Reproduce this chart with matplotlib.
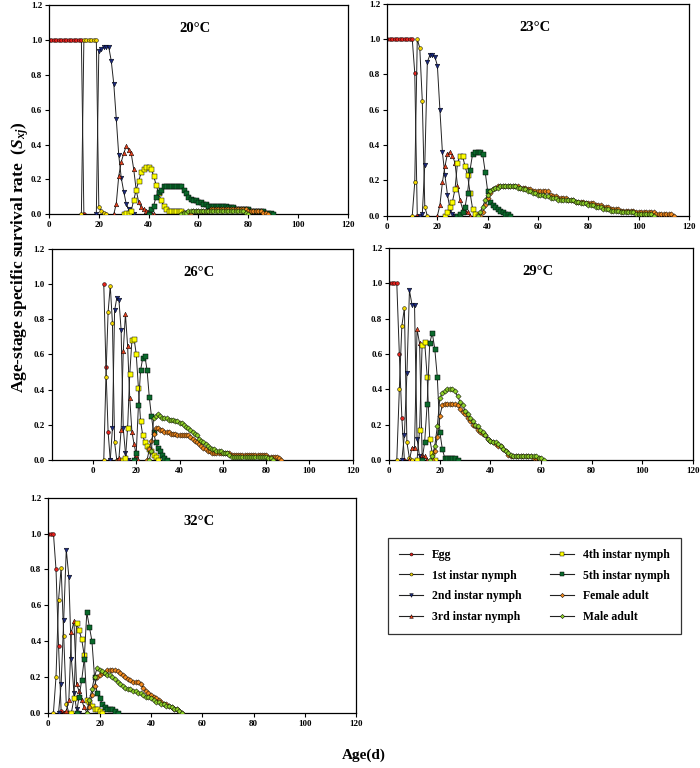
import matplotlib
matplotlib.use("Agg")
import matplotlib.pyplot as plt
from matplotlib.lines import Line2D

plt.rcParams["font.family"] = ["Liberation Serif", "DejaVu Serif"]
plt.rcParams["font.weight"] = "bold"
plt.rcParams["mathtext.fontset"] = "custom"
plt.rcParams["mathtext.rm"] = "Liberation Serif:bold"
plt.rcParams["mathtext.it"] = "Liberation Serif:italic:bold"

stages = ["Egg", "1st instar nymph", "2nd instar nymph", "3rd instar nymph",
          "4th instar nymph", "5th instar nymph", "Female adult", "Male adult"]
temps = ["20°C", "23°C", "26°C", "29°C", "32°C"]

# ---- 20 C : first age (d) of each stage series, then daily S_xj values
start_20 = [0, 13, 19, 26, 30, 40, 56, 53]
egg_20 = [1.0, 1.0, 1.0, 1.0, 1.0, 1.0, 1.0, 1.0, 1.0, 1.0, 1.0, 1.0, 1.0, 1.0, 0.0]
n1_20 = [0.0, 1.0, 1.0, 1.0, 1.0, 1.0, 1.0, 0.04, 0.02, 0.01, 0.0]
n2_20 = [0.0, 0.94, 0.95, 0.96, 0.96, 0.96, 0.88, 0.75, 0.55, 0.34, 0.21, 0.13, 0.06, 0.03, 0.01, 0.0]
n3_20 = [0.0, 0.06, 0.22, 0.30, 0.35, 0.39, 0.37, 0.35, 0.26, 0.14, 0.07, 0.04, 0.03, 0.02, 0.02, 0.01, 0.0]
n4_20 = [0.0, 0.01, 0.01, 0.02, 0.08, 0.14, 0.19, 0.24, 0.26, 0.27, 0.27, 0.26, 0.22, 0.17, 0.12, 0.08,
         0.05, 0.03, 0.02, 0.02, 0.02, 0.02, 0.02, 0.02, 0.01, 0.01, 0.0]
n5_20 = [0.0, 0.03, 0.05, 0.10, 0.13, 0.14, 0.16, 0.16, 0.16, 0.16, 0.16, 0.16, 0.16, 0.16, 0.14, 0.12,
         0.10, 0.09, 0.08, 0.08, 0.07, 0.07, 0.06, 0.06, 0.05, 0.05, 0.05, 0.05, 0.05, 0.05, 0.05, 0.05,
         0.04, 0.04, 0.04, 0.03, 0.03, 0.03, 0.03, 0.03, 0.03, 0.02, 0.02, 0.02, 0.02, 0.02, 0.02, 0.01,
         0.01, 0.01, 0.0]
fem_20 = [0.0, 0.01, 0.02, 0.02, 0.02, 0.02, 0.02, 0.02, 0.02, 0.03, 0.03, 0.03, 0.03, 0.03, 0.03, 0.03,
          0.03, 0.03, 0.03, 0.03, 0.03, 0.03, 0.03, 0.03, 0.02, 0.02, 0.02, 0.02, 0.02, 0.02, 0.01, 0.01, 0.0]
male_20 = [0.0, 0.01, 0.01, 0.02, 0.02, 0.02, 0.02, 0.02, 0.02, 0.02, 0.02, 0.02, 0.02, 0.02, 0.02, 0.02,
           0.02, 0.02, 0.02, 0.02, 0.02, 0.02, 0.02, 0.02, 0.02, 0.02, 0.01, 0.0]

# ---- 23 C
start_23 = [0, 10, 13, 20, 23, 28, 37, 36]
egg_23 = [1.0, 1.0, 1.0, 1.0, 1.0, 1.0, 1.0, 1.0, 1.0, 1.0, 1.0, 0.81, 0.0]
n1_23 = [0.0, 0.19, 1.0, 0.95, 0.65, 0.05, 0.0]
n2_23 = [0.0, 0.01, 0.29, 0.87, 0.91, 0.91, 0.90, 0.85, 0.60, 0.36, 0.23, 0.12, 0.04, 0.01, 0.0]
n3_23 = [0.0, 0.06, 0.19, 0.28, 0.35, 0.36, 0.34, 0.30, 0.17, 0.09, 0.04, 0.03, 0.02, 0.0]
n4_23 = [0.0, 0.02, 0.05, 0.08, 0.15, 0.30, 0.34, 0.34, 0.28, 0.23, 0.13, 0.04, 0.01, 0.0]
n5_23 = [0.0, 0.01, 0.02, 0.05, 0.13, 0.26, 0.35, 0.36, 0.36, 0.36, 0.35, 0.25, 0.14, 0.08, 0.06, 0.05,
         0.04, 0.03, 0.02, 0.01, 0.01, 0.0]
fem_23 = [0.0, 0.02, 0.06, 0.10, 0.13, 0.15, 0.16, 0.17, 0.17, 0.17, 0.17, 0.17, 0.17, 0.17, 0.17, 0.17,
          0.16, 0.16, 0.16, 0.15, 0.15, 0.14, 0.14, 0.14, 0.14, 0.14, 0.14, 0.14, 0.12, 0.11, 0.11, 0.10,
          0.10, 0.10, 0.10, 0.09, 0.09, 0.09, 0.08, 0.08, 0.08, 0.08, 0.07, 0.07, 0.07, 0.07, 0.06, 0.06,
          0.06, 0.05, 0.05, 0.05, 0.04, 0.04, 0.04, 0.04, 0.03, 0.03, 0.03, 0.03, 0.03, 0.03, 0.02, 0.02,
          0.02, 0.02, 0.02, 0.02, 0.02, 0.02, 0.01, 0.01, 0.01, 0.01, 0.01, 0.01, 0.01, 0.0]
male_23 = [0.0, 0.02, 0.05, 0.09, 0.12, 0.14, 0.15, 0.16, 0.16, 0.17, 0.17, 0.17, 0.17, 0.17, 0.17, 0.17,
           0.16, 0.16, 0.15, 0.15, 0.14, 0.14, 0.13, 0.13, 0.12, 0.12, 0.12, 0.11, 0.11, 0.10, 0.10, 0.10,
           0.09, 0.09, 0.09, 0.09, 0.09, 0.09, 0.09, 0.08, 0.08, 0.07, 0.07, 0.07, 0.06, 0.06, 0.06, 0.05,
           0.05, 0.05, 0.04, 0.04, 0.04, 0.03, 0.03, 0.03, 0.03, 0.02, 0.02, 0.02, 0.02, 0.02, 0.02, 0.01,
           0.01, 0.01, 0.01, 0.01, 0.01, 0.01, 0.0]

# ---- 26 C
start_26 = [5, 5, 8, 11, 14, 19, 25, 26]
egg_26 = [1.0, 0.53, 0.16, 0.0]
n1_26 = [0.0, 0.47, 0.84, 0.99, 0.78, 0.10, 0.0]
n2_26 = [0.0, 0.18, 0.85, 0.92, 0.91, 0.74, 0.18, 0.04, 0.0]
n3_26 = [0.0, 0.01, 0.17, 0.62, 0.83, 0.65, 0.35, 0.16, 0.09, 0.03, 0.0]
n4_26 = [0.0, 0.01, 0.18, 0.49, 0.68, 0.69, 0.60, 0.41, 0.22, 0.14, 0.10, 0.08, 0.06, 0.05, 0.03, 0.02, 0.0]
n5_26 = [0.0, 0.04, 0.31, 0.51, 0.58, 0.59, 0.51, 0.36, 0.25, 0.16, 0.10, 0.07, 0.05, 0.03, 0.01, 0.0]
fem_26 = [0.0, 0.06, 0.11, 0.15, 0.18, 0.18, 0.17, 0.17, 0.16, 0.16, 0.16, 0.15, 0.15, 0.15, 0.14, 0.14,
          0.14, 0.14, 0.14, 0.14, 0.13, 0.12, 0.11, 0.10, 0.09, 0.08, 0.07, 0.06, 0.05, 0.05, 0.04, 0.04,
          0.04, 0.04, 0.04, 0.04, 0.04, 0.04, 0.04, 0.03, 0.03, 0.03, 0.03, 0.03, 0.03, 0.03, 0.03, 0.03,
          0.03, 0.03, 0.03, 0.03, 0.03, 0.03, 0.03, 0.03, 0.02, 0.02, 0.02, 0.02, 0.02, 0.01, 0.0]
male_26 = [0.0, 0.05, 0.24, 0.25, 0.26, 0.25, 0.24, 0.24, 0.24, 0.23, 0.23, 0.23, 0.22, 0.22, 0.21, 0.21,
           0.20, 0.19, 0.18, 0.17, 0.16, 0.15, 0.14, 0.12, 0.11, 0.10, 0.09, 0.08, 0.07, 0.06, 0.06, 0.05,
           0.05, 0.05, 0.04, 0.04, 0.04, 0.03, 0.02, 0.02, 0.02, 0.02, 0.02, 0.02, 0.02, 0.02, 0.02, 0.02,
           0.02, 0.02, 0.02, 0.02, 0.02, 0.02, 0.02, 0.01, 0.01, 0.0]

# ---- 29 C
start_29 = [0, 3, 5, 8, 11, 13, 17, 16]
egg_29 = [1.0, 1.0, 1.0, 1.0, 0.60, 0.24, 0.0]
n1_29 = [0.0, 0.40, 0.76, 0.86, 0.10, 0.01, 0.0]
n2_29 = [0.0, 0.14, 0.49, 0.96, 0.88, 0.88, 0.12, 0.02, 0.0]
n3_29 = [0.0, 0.07, 0.07, 0.74, 0.66, 0.03, 0.02, 0.0]
n4_29 = [0.0, 0.17, 0.65, 0.67, 0.47, 0.12, 0.04, 0.0]
n5_29 = [0.0, 0.10, 0.32, 0.66, 0.72, 0.63, 0.47, 0.16, 0.06, 0.01, 0.01, 0.01, 0.01, 0.01, 0.0]
fem_29 = [0.0, 0.05, 0.13, 0.25, 0.31, 0.32, 0.32, 0.32, 0.32, 0.32, 0.31, 0.29, 0.27, 0.26, 0.24, 0.22,
          0.20, 0.19, 0.17, 0.16, 0.15, 0.14, 0.12, 0.11, 0.10, 0.09, 0.08, 0.08, 0.06, 0.05, 0.03, 0.02,
          0.02, 0.02, 0.02, 0.02, 0.02, 0.02, 0.02, 0.02, 0.01, 0.01, 0.01, 0.0]
male_29 = [0.0, 0.02, 0.08, 0.19, 0.35, 0.38, 0.39, 0.40, 0.40, 0.40, 0.39, 0.36, 0.33, 0.31, 0.28, 0.26,
           0.24, 0.22, 0.20, 0.19, 0.17, 0.16, 0.14, 0.12, 0.11, 0.10, 0.10, 0.09, 0.08, 0.06, 0.05, 0.04,
           0.03, 0.02, 0.02, 0.02, 0.02, 0.02, 0.02, 0.02, 0.02, 0.02, 0.02, 0.01, 0.01, 0.0]

# ---- 32 C
start_32 = [0, 2, 4, 6, 9, 11, 15, 15]
egg_32 = [1.0, 1.0, 1.0, 0.80, 0.37, 0.01, 0.0]
n1_32 = [0.0, 0.20, 0.63, 0.81, 0.43, 0.05, 0.0]
n2_32 = [0.0, 0.16, 0.52, 0.91, 0.76, 0.30, 0.11, 0.02, 0.0]
n3_32 = [0.0, 0.01, 0.07, 0.45, 0.51, 0.16, 0.12, 0.07, 0.03, 0.0]
n4_32 = [0.0, 0.08, 0.50, 0.46, 0.41, 0.32, 0.07, 0.06, 0.04, 0.02, 0.02, 0.01, 0.0]
n5_32 = [0.0, 0.09, 0.18, 0.30, 0.56, 0.48, 0.40, 0.20, 0.11, 0.08, 0.05, 0.03, 0.02, 0.02, 0.02, 0.01, 0.0]
fem_32 = [0.0, 0.03, 0.10, 0.15, 0.20, 0.21, 0.22, 0.22, 0.24, 0.24, 0.24, 0.24, 0.23, 0.22, 0.21, 0.20,
          0.19, 0.18, 0.17, 0.17, 0.17, 0.16, 0.14, 0.12, 0.11, 0.10, 0.09, 0.08, 0.07, 0.06, 0.05, 0.05,
          0.04, 0.03, 0.02, 0.02, 0.01, 0.0]
male_32 = [0.0, 0.07, 0.13, 0.20, 0.25, 0.24, 0.23, 0.22, 0.21, 0.21, 0.20, 0.19, 0.17, 0.16, 0.15, 0.14,
           0.13, 0.13, 0.12, 0.12, 0.11, 0.11, 0.10, 0.09, 0.09, 0.08, 0.07, 0.06, 0.06, 0.05, 0.05, 0.04,
           0.04, 0.03, 0.02, 0.02, 0.01, 0.0]

panels = {
    "20°C": (start_20, [egg_20, n1_20, n2_20, n3_20, n4_20, n5_20, fem_20, male_20]),
    "23°C": (start_23, [egg_23, n1_23, n2_23, n3_23, n4_23, n5_23, fem_23, male_23]),
    "26°C": (start_26, [egg_26, n1_26, n2_26, n3_26, n4_26, n5_26, fem_26, male_26]),
    "29°C": (start_29, [egg_29, n1_29, n2_29, n3_29, n4_29, n5_29, fem_29, male_29]),
    "32°C": (start_32, [egg_32, n1_32, n2_32, n3_32, n4_32, n5_32, fem_32, male_32]),
}

markers = ["o", "o", "v", "^", "s", "s", "D", "D"]
colors = ["#e3211c", "#f2d600", "#1b2a80", "#e8401c", "#ffff00", "#0b6a2c", "#f28a1e", "#8fd12a"]
msizes = [2.7, 2.7, 3.3, 3.3, 3.6, 3.6, 2.7, 2.7]

# axes boxes in figure fractions [left, bottom, width, height]
boxes = {
    "20°C": [0.070, 0.721, 0.427, 0.272],
    "23°C": [0.553, 0.719, 0.431, 0.276],
    "26°C": [0.074, 0.401, 0.430, 0.275],
    "29°C": [0.556, 0.401, 0.434, 0.276],
    "32°C": [0.069, 0.072, 0.440, 0.280],
}
xlims = {"20°C": (0, 120), "23°C": (0, 120), "26°C": (-19, 120), "29°C": (0, 120), "32°C": (0, 120)}

fig = plt.figure(figsize=(7.0, 7.68), dpi=100)

for t in temps:
    ax = fig.add_axes(boxes[t])
    starts, series = panels[t]
    for i, vals in enumerate(series):
        ages = [starts[i] + k for k in range(len(vals))]
        ax.plot(ages, vals, "-", color="#222222", lw=0.7, marker=markers[i], ms=msizes[i],
                mfc=colors[i], mec="black", mew=0.35, zorder=2 + i)
    ax.set_xlim(*xlims[t]); ax.set_ylim(0, 1.2)
    ax.set_xticks(range(0, 121, 20)); ax.set_yticks([0, 0.2, 0.4, 0.6, 0.8, 1.0, 1.2])
    ax.set_yticklabels([f"{v:.1f}" for v in ax.get_yticks()])
    ax.tick_params(direction="out", length=3, width=0.8, labelsize=6.5, pad=2)
    for lab in ax.get_xticklabels() + ax.get_yticklabels():
        lab.set_fontweight("bold")
    for s in ax.spines.values():
        s.set_linewidth(0.9)
    ax.text(0.49, 0.89, t, transform=ax.transAxes, ha="center", va="center",
            fontsize=10.5, fontweight="bold")

handles = [Line2D([], [], color="#222222", lw=0.8, marker=markers[i], ms=msizes[i] * 0.8,
                  mfc=colors[i], mec="black", mew=0.35) for i in range(8)]
leg = fig.legend(handles, stages, ncol=2, loc="center", bbox_to_anchor=(0.56, 0.173, 0.407, 0.128),
                 fancybox=False, edgecolor="black", fontsize=8.5, handlelength=2.0,
                 columnspacing=2.4, labelspacing=0.75, borderpad=0.9)
leg.get_frame().set_linewidth(0.9)
for txt in leg.get_texts():
    txt.set_fontweight("bold")

fig.text(0.029, 0.665, r"Age-stage specific survival rate  ($\mathit{S}_{xj}$)", rotation=90,
         ha="center", va="center", fontsize=12.5, fontweight="bold")
fig.text(0.52, 0.017, "Age(d)", ha="center", va="center", fontsize=11, fontweight="bold")

fig.savefig("out.png", dpi=100)
